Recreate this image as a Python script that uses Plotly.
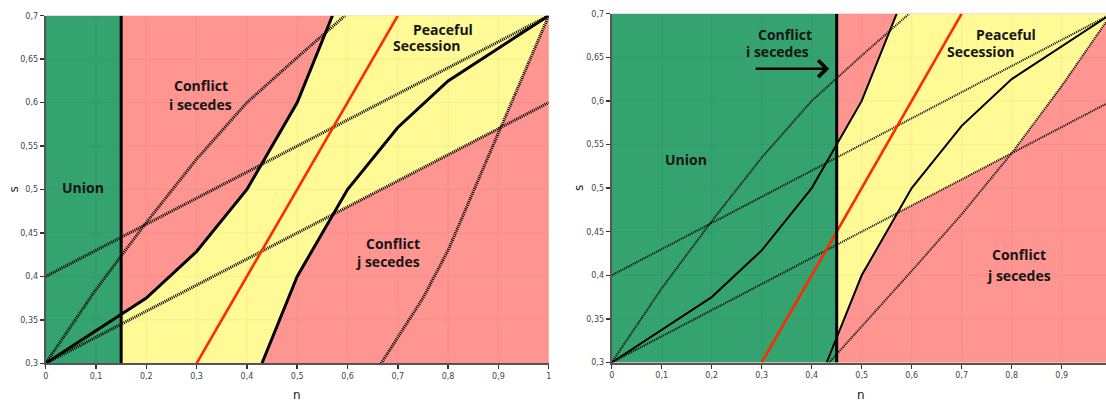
import numpy as np
import plotly.graph_objects as go

# ---------------- data ----------------
n_ticks = [0, 0.1, 0.2, 0.3, 0.4, 0.5, 0.6, 0.7, 0.8, 0.9, 1.0]
n_tick_labels = ["0", "0,1", "0,2", "0,3", "0,4", "0,5", "0,6", "0,7", "0,8", "0,9", "1"]
s_ticks = [0.3, 0.35, 0.4, 0.45, 0.5, 0.55, 0.6, 0.65, 0.7]
s_tick_labels = ["0,3", "0,35", "0,4", "0,45", "0,5", "0,55", "0,6", "0,65", "0,7"]

union_cut_left = 0.15
union_cut_right = 0.45

upper_n = [0, 0.2, 0.3, 0.4, 0.5, 0.57]
upper_s = [0.3, 0.375, 0.4286, 0.5, 0.6, 0.7]
lower_n = [0.43, 0.5, 0.6, 0.7, 0.8, 1.0]
lower_s = [0.3, 0.4, 0.5, 0.5714, 0.625, 0.7]
equal_n = [0.3, 0.7]
equal_s = [0.3, 0.7]
low_ray_n = [0, 1]
low_ray_s = [0.3, 0.6]
high_ray_n = [0, 1]
high_ray_s = [0.4, 0.7]
steep_n = [0, 0.1, 0.2, 0.3, 0.4, 0.5, 0.595]
steep_s = [0.3, 0.385, 0.462, 0.535, 0.6, 0.652, 0.7]
mirror_left_n = [0.667, 0.75, 0.8, 0.9, 1.0]
mirror_left_s = [0.3, 0.375, 0.43, 0.565, 0.7]
mirror_right_n = [0.435, 0.6, 0.7, 0.8, 0.9, 1.0]
mirror_right_s = [0.3, 0.405, 0.47, 0.54, 0.617, 0.7]

GREEN = "#34a370"
PINK = "#fe9591"
YELLOW = "#fffa96"
RED = "#ff2a00"

S_MIN, S_MAX = s_ticks[0], s_ticks[-1]
N_MIN, N_MAX = n_ticks[0], n_ticks[-1]

fig = go.Figure()


def add_panel(xa, ya, cut, mirror_n, mirror_s, solid_w, dot_w, dot_dash):
    g = np.linspace(cut, N_MAX, 1500)
    top = np.minimum(np.interp(g, upper_n, upper_s, right=S_MAX), S_MAX)
    e = np.interp(g, lower_n, lower_s, left=S_MIN)
    a = np.interp(g, low_ray_n, low_ray_s)
    d = np.interp(g, mirror_n, mirror_s, left=S_MIN)
    pink = np.maximum(np.minimum(e, a), d)
    base = np.full_like(g, S_MIN)
    common = dict(xaxis=xa, yaxis=ya, mode="lines", line=dict(width=0),
                  hoverinfo="skip", showlegend=False, fill="toself")
    fig.add_trace(go.Scatter(x=np.concatenate([g, g[::-1]]),
                             y=np.concatenate([top, base]),
                             fillcolor=YELLOW, **common))
    fig.add_trace(go.Scatter(x=np.concatenate([g, g[::-1]]),
                             y=np.concatenate([pink, base]),
                             fillcolor=PINK, **common))
    fig.add_trace(go.Scatter(x=[N_MIN, cut, cut, N_MIN],
                             y=[S_MIN, S_MIN, S_MAX, S_MAX],
                             fillcolor=GREEN, **common))
    # faint grid
    gx, gy = [], []
    for t in n_ticks:
        gx += [t, t, None]
        gy += [S_MIN, S_MAX, None]
    for t in s_ticks:
        gx += [N_MIN, N_MAX, None]
        gy += [t, t, None]
    fig.add_trace(go.Scatter(x=gx, y=gy, xaxis=xa, yaxis=ya, mode="lines",
                             line=dict(color="rgba(0,0,0,0.045)", width=1),
                             hoverinfo="skip", showlegend=False))
    ln = dict(xaxis=xa, yaxis=ya, mode="lines", hoverinfo="skip", showlegend=False)
    dot = dict(color="black", width=dot_w, dash=dot_dash)
    fig.add_trace(go.Scatter(x=low_ray_n, y=low_ray_s, line=dot, **ln))
    fig.add_trace(go.Scatter(x=high_ray_n, y=high_ray_s, line=dot, **ln))
    fig.add_trace(go.Scatter(x=steep_n, y=steep_s, line=dot, **ln))
    fig.add_trace(go.Scatter(x=mirror_n, y=mirror_s, line=dot, **ln))
    fig.add_trace(go.Scatter(x=upper_n, y=upper_s, line=dict(color="black", width=solid_w), **ln))
    fig.add_trace(go.Scatter(x=lower_n, y=lower_s, line=dict(color="black", width=solid_w), **ln))
    fig.add_trace(go.Scatter(x=equal_n, y=equal_s, line=dict(color=RED, width=2.6), **ln))
    fig.add_trace(go.Scatter(x=[cut, cut], y=[S_MIN, S_MAX], line=dict(color="black", width=3), **ln))


add_panel("x", "y", union_cut_left, mirror_left_n, mirror_left_s, 3, 3, "1px,1px")
add_panel("x2", "y2", union_cut_right, mirror_right_n, mirror_right_s, 2, 2, "1px,1px")

tickfont = dict(family="DejaVu Sans", size=8, color="#444")
axis_common = dict(showgrid=False, zeroline=False, showline=True, linecolor="#555",
                   linewidth=2, ticks="outside", ticklen=4, tickwidth=1.5,
                   tickcolor="#333", tickfont=tickfont, fixedrange=True,
                   automargin=False)

fig.update_layout(
    width=1106, height=404, autosize=False,
    margin=dict(l=0, r=0, t=0, b=0, pad=0, autoexpand=False),
    paper_bgcolor="white", plot_bgcolor=PINK,
    showlegend=False,
    xaxis=dict(domain=[45.7 / 1106, 548.7 / 1106], range=[N_MIN, N_MAX],
               tickvals=n_ticks, ticktext=n_tick_labels, anchor="y", **axis_common),
    yaxis=dict(domain=[(404 - 363.3) / 404, (404 - 15.7) / 404], range=[S_MIN, S_MAX],
               tickvals=s_ticks, ticktext=s_tick_labels, anchor="x", **axis_common),
    xaxis2=dict(domain=[611.7 / 1106, 1.0], range=[N_MIN, (1106 - 611.7) / 500],
                tickvals=n_ticks, ticktext=n_tick_labels, anchor="y2", **axis_common),
    yaxis2=dict(domain=[(404 - 362.5) / 404, (404 - 13.7) / 404], range=[S_MIN, S_MAX],
                tickvals=s_ticks, ticktext=s_tick_labels, anchor="x2", **axis_common),
)

label_font = dict(family="Open Sans", size=14, color="#151515")


def label(text, x, y, xr, yr):
    fig.add_annotation(text="<b>%s</b>" % text, x=x, y=y, xref=xr, yref=yr,
                       showarrow=False, xanchor="center", yanchor="middle", font=label_font)


# left panel
label("Union", 0.074, 0.5025, "x", "y")
label("Conflict", 0.308, 0.6195, "x", "y")
label("i secedes", 0.308, 0.598, "x", "y")
label("Peaceful", 0.7897, 0.6843, "x", "y")
label("Secession", 0.758, 0.6652, "x", "y")
label("Conflict", 0.6908, 0.4381, "x", "y")
label("j secedes", 0.681, 0.4177, "x", "y")
# right panel
label("Union", 0.1486, 0.533, "x2", "y2")
label("Conflict", 0.3466, 0.6756, "x2", "y2")
label("i secedes", 0.3312, 0.6572, "x2", "y2")
label("Peaceful", 0.7894, 0.6756, "x2", "y2")
label("Secession", 0.7386, 0.6572, "x2", "y2")
label("Conflict", 0.8146, 0.4241, "x2", "y2")
label("j secedes", 0.8138, 0.4, "x2", "y2")

fig.add_annotation(x=0.435, y=0.637, ax=0.285, ay=0.637, xref="x2", yref="y2",
                   axref="x2", ayref="y2", showarrow=True, arrowhead=4,
                   arrowsize=1.3, arrowwidth=2.5, arrowcolor="black", text="")

title_font = dict(family="DejaVu Sans", size=12, color="#222")
for txt, x, y, ang in [("s", 13.6, 190, -90), ("s", 579, 188, -90)]:
    fig.add_annotation(text=txt, x=x / 1106, y=1 - y / 404, xref="paper", yref="paper",
                       showarrow=False, textangle=ang, font=title_font,
                       xanchor="center", yanchor="middle")
for txt, x in [("n", 296.7), ("n", 861)]:
    fig.add_annotation(text=txt, x=x / 1106, y=0, xref="paper", yref="paper",
                       showarrow=False, font=title_font,
                       xanchor="center", yanchor="bottom")

fig.write_html(
    "out.html",
    config={"displayModeBar": False, "staticPlot": True},
    post_script="document.body.style.margin='0';document.body.style.overflow='hidden';",
)
